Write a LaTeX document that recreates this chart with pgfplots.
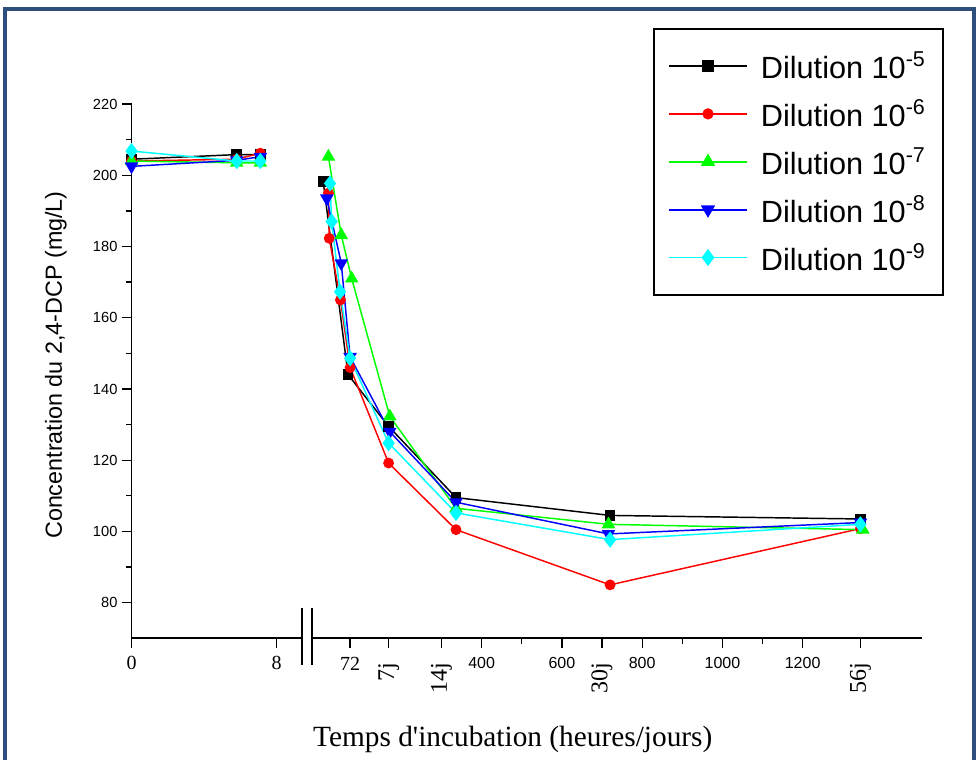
\documentclass[border=0pt]{standalone}
\usepackage{fontspec}
\setmainfont{Liberation Sans}
\newfontfamily\serif{Liberation Serif}
\usepackage{pgfplots}
\pgfplotsset{compat=1.18}
\definecolor{frameblue}{HTML}{2E4E7E}
\definecolor{cgreen}{HTML}{00FF00}
\definecolor{cred}{HTML}{FF0000}
\definecolor{cblue}{HTML}{0000FF}
\definecolor{ccyan}{HTML}{00FFFF}
\newcommand\tlS[1]{{\serif\fontsize{15}{17}\selectfont #1}}
\newcommand\tlR[1]{\vbox{\kern4pt\hbox{\rotatebox{90}{\serif\fontsize{18}{20}\selectfont #1}}}}
\newcommand\leg[1]{\hspace{8pt}Dilution 10\textsuperscript{#1}}
\pgfplotsset{
  common/.style={
    scale only axis, clip=false,
    ymin=70, ymax=220,
    tick align=outside,
    major tick length=7pt, minor tick length=4pt,
    every tick/.style={black, line width=1pt},
    axis line style={line width=1.3pt,-},
    /pgf/number format/assume math mode=true,
  },
  sK/.style={black, line width=1.1pt, mark=square*, mark size=3.5pt},
  sR/.style={cred, line width=1.1pt, mark=*, mark size=3.5pt},
  sG/.style={cgreen, line width=1.1pt, mark=triangle*, mark size=4.8pt},
  sB/.style={cblue, line width=1.1pt, mark=triangle*, mark size=4.8pt, every mark/.append style={rotate=180}},
  sC/.style={ccyan, line width=1.1pt, mark=diamond*, mark size=5.2pt},
}
\begin{document}
\begin{tikzpicture}
\path[use as bounding box] (0,0) rectangle (733.5pt,570pt);
\draw[frameblue, line width=3pt] (3.5pt,-5pt) -- (3.5pt,562.9pt) -- (730.2pt,562.9pt) -- (730.2pt,-5pt);
% left segment
\begin{axis}[common,
  at={(98.625pt,91.275pt)}, anchor=south west,
  width=127.65pt, height=400.7pt,
  xmin=0, xmax=9.38,
  axis x line*=bottom, axis y line*=left,
  xtick={0,8}, xticklabels={\tlS{0},\tlS{8}},
  xticklabel style={yshift=-3pt},
  ytick={80,100,...,220}, minor y tick num=1,
  yticklabel style={font=\fontsize{11}{13}\selectfont},
  ylabel={Concentration du 2,4-DCP (mg/L)},
  ylabel style={at={(axis description cs:-0.445,0.5115)}, anchor=center, rotate=0, font=\fontsize{17.5}{20}\selectfont},
]
\addplot[sK] coordinates {(0,204.5) (5.8,205.8) (7.1,205.8)};
\addplot[sR] coordinates {(0,204) (5.8,204.5) (7.1,206.2)};
\addplot[sG] coordinates {(0,204) (5.8,203.5) (7.1,203.5)};
\addplot[sB] coordinates {(0,202.5) (5.8,204.2) (7.1,205.2)};
\addplot[sC] coordinates {(0,206.8) (5.8,204) (7.1,204)};
\end{axis}
% right segment
\begin{axis}[common,
  at={(234.225pt,91.275pt)}, anchor=south west,
  width=457pt, height=400.7pt,
  xmin=-22.2, xmax=1496.6,
  axis x line*=bottom, axis y line=none,
  xtick={72,168,300,400,600,700,800,1000,1200,1344},
  xticklabels={\tlS{72},\tlR{7j},\tlR{14j},400,600,\tlR{30j},800,1000,1200,\tlR{56j}},
  minor xtick={500,900,1100},
  xticklabel style={font=\fontsize{12}{14}\selectfont, anchor=north, yshift=-4pt},
  xlabel={Temps d'incubation (heures/jours)},
  xlabel style={at={(axis description cs:0.329,-0.2016)}, anchor=base, font=\serif\fontsize{22}{25}\selectfont},
  legend style={at={(axis description cs:0.559,1.142)}, anchor=north west,
    draw=black, line width=1.2pt, font=\fontsize{23}{26}\selectfont,
    row sep=10.2pt, inner xsep=11pt, inner ysep=15pt},
  legend cell align=left,
  legend image code/.code={\draw[mark repeat=2,mark phase=2,#1,line width=1.4pt] plot coordinates {(0pt,0pt) (29pt,0pt) (58pt,0pt)};},
]
\addplot[sK] coordinates {(5,198.2) (67,144) (168,129.5) (336,109.5) (720,104.5) (1344,103.5)};
\addplot[sR] coordinates {(18,195) (20,182.3) (48,165) (72,146) (168,119.2) (336,100.5) (720,85) (1344,100.8)};
\addplot[sG] coordinates {(18,205.2) (50,183.2) (76,171) (171,132.3) (336,106.5) (716,102) (1350,100.5)};
\addplot[sB] coordinates {(14,193.5) (50,175.3) (72,149) (171,128) (336,108.2) (716,99.3) (1344,102.5)};
\addplot[sC] coordinates {(22,197.7) (26,187) (47,167.3) (72,148.6) (168,124.8) (336,105.2) (720,97.7) (1344,102)};
\legend{\leg{-5},\leg{-6},\leg{-7},\leg{-8},\leg{-9}}
\end{axis}
% axis break marks
\draw[line width=1.4pt] (226.3pt,114pt) -- (226.3pt,71.25pt);
\draw[line width=1.4pt] (234.2pt,114pt) -- (234.2pt,71.25pt);
\end{tikzpicture}
\end{document}
